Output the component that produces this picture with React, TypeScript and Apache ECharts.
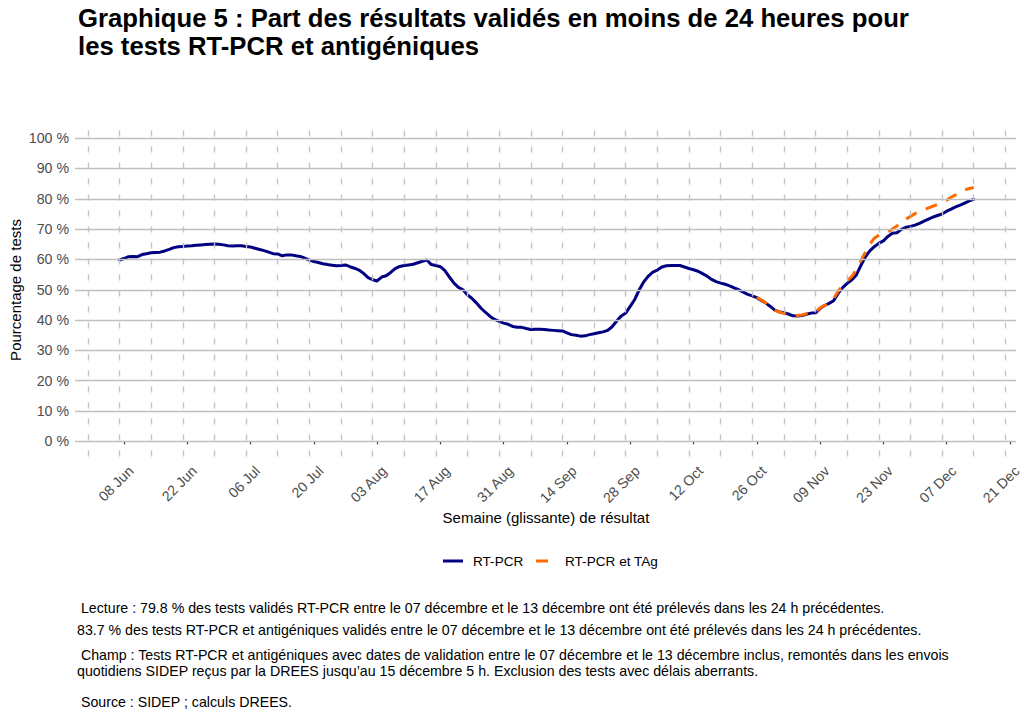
import React, { useEffect, useRef } from "react";
import * as echarts from "echarts";

// RT-PCR: daily values from 07 Jun 2020
const rtpcrStart = "2020-06-07";
const rtpcrValues = [
  59.8, 60.3, 60.9, 61.0, 60.9, 61.6, 61.9,
  62.2, 62.3, 62.4, 62.8, 63.3, 63.9, 64.2,
  64.3, 64.4, 64.5, 64.7, 64.8, 64.9, 65.0,
  65.1, 65.0, 64.8, 64.5, 64.4, 64.5, 64.5,
  64.3, 64.1, 63.7, 63.3, 62.9, 62.4, 61.9,
  61.8, 61.2, 61.5, 61.5, 61.2, 61.0, 60.4,
  59.8, 59.3, 59.0, 58.6, 58.3, 58.1, 57.9,
  58.0, 58.2, 57.6, 57.1, 56.5, 55.4, 54.0,
  53.3, 52.9, 54.2, 54.6, 55.7, 57.0, 57.7,
  58.0, 58.2, 58.4, 58.9, 59.4, 59.8, 58.3,
  58.0, 57.6, 56.3, 54.2, 52.2, 50.8, 50.0,
  48.3, 47.1, 45.6, 43.9, 42.5, 41.2, 40.2,
  39.6, 39.0, 38.6, 37.9, 37.6, 37.6, 37.2,
  36.9, 37.0, 37.0, 36.9, 36.7, 36.6, 36.5,
  36.4, 35.8, 35.2, 35.0, 34.7, 34.8, 35.2,
  35.5, 35.8, 36.1, 36.6, 37.8, 39.7, 41.3,
  42.3, 44.5, 46.8, 50.0, 52.6, 54.5, 55.8,
  56.5, 57.5, 57.9, 58.0, 58.0, 58.0, 57.5,
  57.0, 56.6, 56.1, 55.3, 54.5, 53.4, 52.7,
  52.2, 51.8, 51.3, 50.6, 50.0, 49.2, 48.5,
  48.0, 47.4, 46.5, 45.6, 44.5, 43.3, 42.7,
  42.4, 42.0, 41.4, 41.3, 41.5, 41.9, 42.3,
  42.4, 43.8, 44.8, 45.5, 46.4, 48.8, 50.7,
  52.1, 53.2, 54.8, 57.9, 60.8, 62.8, 64.2,
  65.3, 66.1, 67.6, 68.6, 68.8, 69.9, 70.6,
  70.9, 71.3, 71.9, 72.6, 73.3, 74.0, 74.5,
  75.0, 75.9, 76.6, 77.3, 77.9, 78.6, 79.3,
  79.8,
];

// RT-PCR et TAg: daily values from 26 Oct 2020
const tagStart = "2020-10-26";
const tagValues = [
  47.5, 46.6, 45.6, 44.4, 43.2, 42.6, 42.2,
  41.8, 41.5, 41.5, 41.7, 42.1, 42.3, 42.6,
  44.0, 44.8, 45.5, 47.0, 49.5, 51.5, 53.0,
  54.3, 56.5, 59.5, 62.3, 65.0, 67.0, 68.0,
  68.8, 69.1, 70.0, 71.0, 72.3, 73.3, 74.2,
  75.1, 75.8, 76.4, 77.0, 77.6, 78.1, 78.7,
  79.5, 80.5, 81.3, 82.2, 82.9, 83.4, 83.7,
];

const tickDates = [
  "2020-06-08", "2020-06-22", "2020-07-06", "2020-07-20", "2020-08-03",
  "2020-08-17", "2020-08-31", "2020-09-14", "2020-09-28", "2020-10-12",
  "2020-10-26", "2020-11-09", "2020-11-23", "2020-12-07", "2020-12-21",
];
const tickLabels = [
  "08 Jun", "22 Jun", "06 Jul", "20 Jul", "03 Aug", "17 Aug", "31 Aug",
  "14 Sep", "28 Sep", "12 Oct", "26 Oct", "09 Nov", "23 Nov", "07 Dec", "21 Dec",
];
const yTicks = [0, 10, 20, 30, 40, 50, 60, 70, 80, 90, 100];
const firstWeekGuide = "2020-05-31";
const lastWeekGuide = "2020-12-20";

const DAY = 86400000;
const ORIGIN = Date.parse("2020-06-08T00:00:00Z");
const dayOff = (s: string) => Math.round((Date.parse(s + "T00:00:00Z") - ORIGIN) / DAY);

const X_MIN = -10.84;
const X_MAX = 197.35;
const GRID_LEFT = 75;
const GRID_RIGHT = 8;
const LABEL_SHIFT_PX = 7;

const FONT = "Liberation Sans";

export default function App() {
  const ref = useRef<HTMLDivElement>(null);
  useEffect(() => {
    if (!ref.current) return;
    const chart = echarts.init(ref.current, null, { renderer: "svg" });
    const s0 = dayOff(rtpcrStart);
    const rtpcrData = rtpcrValues.map((v, i) => [s0 + i, v]);
    const t0 = dayOff(tagStart);
    const tagData = tagValues.map((v, i) => [t0 + i, v]);
    const tickPos = tickDates.map(dayOff);
    const guides: number[] = [];
    for (let d = dayOff(firstWeekGuide); d <= dayOff(lastWeekGuide); d += 7) guides.push(d);

    chart.setOption({
      animation: false,
      grid: [
        { left: GRID_LEFT, right: GRID_RIGHT, top: 123, height: 333.5, containLabel: false },
        {
          left: GRID_LEFT + LABEL_SHIFT_PX,
          right: GRID_RIGHT - LABEL_SHIFT_PX,
          top: 123,
          height: 333.5,
          containLabel: false,
        },
      ],
      xAxis: [
        {
          type: "value",
          gridIndex: 0,
          min: X_MIN,
          max: X_MAX,
          position: "bottom",
          axisLine: { show: false },
          splitLine: { show: false },
          axisTick: {
            show: true,
            customValues: tickPos,
            length: 3,
            lineStyle: { color: "#333333", width: 1.2 },
          },
          axisLabel: { show: false },
        },
        {
          type: "value",
          gridIndex: 1,
          min: X_MIN,
          max: X_MAX,
          position: "bottom",
          axisLine: { show: false },
          splitLine: { show: false },
          axisTick: { show: false },
          axisLabel: {
            show: true,
            customValues: tickPos,
            rotate: 45,
            margin: 12,
            color: "#4d4d4d",
            fontSize: 14.2,
            fontFamily: FONT,
            formatter: (v: number) => {
              const i = tickPos.indexOf(Math.round(v));
              return i >= 0 ? tickLabels[i] : "";
            },
          },
        },
      ],
      yAxis: [
        {
          type: "value",
          gridIndex: 0,
          min: -5,
          max: 105,
          axisLine: { show: false },
          axisTick: { show: false },
          splitLine: { show: false },
          axisLabel: {
            customValues: yTicks,
            formatter: (v: number) => `${v} %`,
            color: "#4d4d4d",
            fontSize: 14.2,
            fontFamily: FONT,
            margin: 6,
          },
        },
        {
          type: "value",
          gridIndex: 1,
          min: -5,
          max: 105,
          show: false,
        },
      ],
      series: [
        {
          type: "line",
          name: "grid",
          data: rtpcrData,
          z: 1,
          silent: true,
          showSymbol: false,
          lineStyle: { opacity: 0, width: 0 },
          markLine: {
            silent: true,
            symbol: ["none", "none"],
            label: { show: false },
            animation: false,
            data: [
              ...yTicks.map((v) => ({
                yAxis: v,
                lineStyle: { color: "#c0c0c0", width: 1.4, type: "solid" },
              })),
              ...guides.map((d) => ({
                xAxis: d,
                lineStyle: { color: "#c4c4c4", width: 1.4, type: [6, 10] },
              })),
            ],
          },
        },
        {
          type: "line",
          name: "RT-PCR",
          data: rtpcrData,
          z: 3,
          showSymbol: false,
          symbol: "none",
          lineStyle: { color: "#000080", width: 3, cap: "round", join: "round" },
        },
        {
          type: "line",
          name: "RT-PCR et TAg",
          data: tagData,
          z: 4,
          showSymbol: false,
          symbol: "none",
          lineStyle: { color: "#ff6a00", width: 3, type: [12, 10] },
        },
      ],
      graphic: [
        {
          type: "text",
          x: 78,
          y: 18,
          style: {
            text: "Graphique 5 : Part des résultats validés en moins de 24 heures pour",
            fontFamily: FONT, fontWeight: "bold", fontSize: 25.7, fill: "#000",
            verticalAlign: "middle",
          },
        },
        {
          type: "text",
          x: 78,
          y: 46,
          style: {
            text: "les tests RT-PCR et antigéniques",
            fontFamily: FONT, fontWeight: "bold", fontSize: 25.7, fill: "#000",
            verticalAlign: "middle",
          },
        },
        {
          type: "text",
          x: 15,
          y: 290,
          rotation: Math.PI / 2,
          style: {
            text: "Pourcentage de tests",
            fontFamily: FONT, fontSize: 15, fill: "#000",
            align: "center", verticalAlign: "middle",
          },
        },
        {
          type: "text",
          x: 546,
          y: 517,
          style: {
            text: "Semaine (glissante) de résultat",
            fontFamily: FONT, fontSize: 15, fill: "#000",
            align: "center", verticalAlign: "middle",
          },
        },
        {
          type: "line",
          shape: { x1: 443, y1: 561, x2: 463, y2: 561 },
          style: { stroke: "#000080", lineWidth: 3 },
        },
        {
          type: "text",
          x: 473,
          y: 561,
          style: { text: "RT-PCR", fontFamily: FONT, fontSize: 13.6, fill: "#000", verticalAlign: "middle" },
        },
        {
          type: "line",
          shape: { x1: 536, y1: 561, x2: 548, y2: 561 },
          style: { stroke: "#ff6a00", lineWidth: 3 },
        },
        {
          type: "text",
          x: 565,
          y: 561,
          style: { text: "RT-PCR et TAg", fontFamily: FONT, fontSize: 13.6, fill: "#000", verticalAlign: "middle" },
        },
        {
          type: "text",
          x: 77,
          y: 608,
          style: {
            text: " Lecture : 79.8 % des tests validés RT-PCR entre le 07 décembre et le 13 décembre ont été prélevés dans les 24 h précédentes.",
            fontFamily: FONT, fontSize: 14.2, fill: "#000", verticalAlign: "middle",
          },
        },
        {
          type: "text",
          x: 77,
          y: 630,
          style: {
            text: "83.7 % des tests RT-PCR et antigéniques validés entre le 07 décembre et le 13 décembre ont été prélevés dans les 24 h précédentes.",
            fontFamily: FONT, fontSize: 14.2, fill: "#000", verticalAlign: "middle",
          },
        },
        {
          type: "text",
          x: 77,
          y: 655,
          style: {
            text: " Champ : Tests RT-PCR et antigéniques avec dates de validation entre le 07 décembre et le 13 décembre inclus, remontés dans les envois",
            fontFamily: FONT, fontSize: 14.2, fill: "#000", verticalAlign: "middle",
          },
        },
        {
          type: "text",
          x: 77,
          y: 671,
          style: {
            text: "quotidiens SIDEP reçus par la DREES jusqu’au 15 décembre 5 h. Exclusion des tests avec délais aberrants.",
            fontFamily: FONT, fontSize: 14.2, fill: "#000", verticalAlign: "middle",
          },
        },
        {
          type: "text",
          x: 77,
          y: 702,
          style: {
            text: " Source : SIDEP ; calculs DREES.",
            fontFamily: FONT, fontSize: 14.2, fill: "#000", verticalAlign: "middle",
          },
        },
      ],
    });
    return () => chart.dispose();
  }, []);
  return (
    <div
      ref={ref}
      style={{ position: "fixed", left: 0, top: 0, width: 1024, height: 717, background: "#fff" }}
    />
  );
}
